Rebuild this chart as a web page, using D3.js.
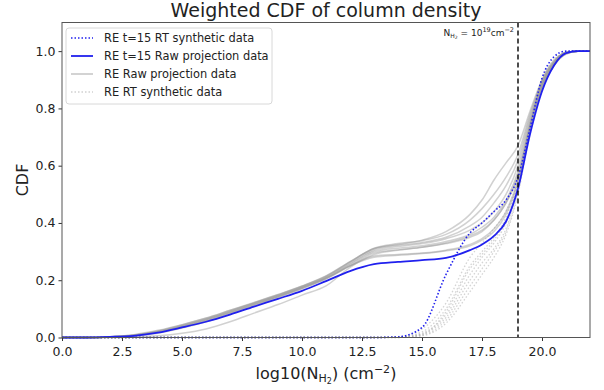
<!DOCTYPE html>
<html>
<head>
<meta charset="utf-8">
<script src="https://cdn.jsdelivr.net/npm/d3@7"></script>
<style>
  body { margin: 0; background: #fff; }
  svg { font-family: "DejaVu Sans", sans-serif; }
</style>
</head>
<body>
<div id="chart"></div>
<script>
// log10 column density grid shared by all curves
const xGrid = [0, 1, 2, 3, 4, 5, 6, 7, 8, 9, 10, 11, 12, 13, 14, 15, 16, 17, 17.5, 18, 18.5, 19, 19.5, 20, 20.5, 21, 21.5, 22];

// RE raw projection runs (grey solid)
const rawRuns = [
  [0, 0, 0.003, 0.010, 0.025, 0.045, 0.068, 0.095, 0.122, 0.150, 0.180, 0.215, 0.265, 0.310, 0.325, 0.340, 0.370, 0.430, 0.480, 0.550, 0.610, 0.670, 0.790, 0.900, 0.965, 0.995, 1, 1],
  [0, 0, 0.002, 0.008, 0.022, 0.042, 0.065, 0.092, 0.120, 0.148, 0.178, 0.212, 0.262, 0.310, 0.322, 0.332, 0.350, 0.390, 0.420, 0.470, 0.530, 0.620, 0.770, 0.890, 0.960, 0.995, 1, 1],
  [0, 0, 0.002, 0.008, 0.020, 0.040, 0.063, 0.090, 0.118, 0.146, 0.176, 0.210, 0.258, 0.305, 0.318, 0.328, 0.345, 0.375, 0.400, 0.440, 0.500, 0.600, 0.760, 0.885, 0.960, 0.995, 1, 1],
  [0, 0, 0.002, 0.007, 0.019, 0.038, 0.060, 0.087, 0.115, 0.143, 0.173, 0.207, 0.255, 0.300, 0.312, 0.320, 0.335, 0.360, 0.385, 0.420, 0.480, 0.580, 0.750, 0.880, 0.955, 0.993, 1, 1],
  [0, 0, 0.001, 0.005, 0.015, 0.033, 0.055, 0.082, 0.110, 0.140, 0.170, 0.205, 0.250, 0.295, 0.306, 0.315, 0.328, 0.350, 0.370, 0.410, 0.470, 0.570, 0.740, 0.875, 0.955, 0.993, 1, 1],
  [0, 0, 0.002, 0.007, 0.020, 0.040, 0.062, 0.088, 0.116, 0.144, 0.174, 0.208, 0.250, 0.285, 0.290, 0.295, 0.305, 0.325, 0.345, 0.380, 0.440, 0.550, 0.730, 0.870, 0.950, 0.990, 1, 1],
  [0, 0, 0, 0.002, 0.006, 0.015, 0.030, 0.055, 0.085, 0.115, 0.148, 0.180, 0.245, 0.290, 0.305, 0.315, 0.330, 0.355, 0.375, 0.410, 0.470, 0.560, 0.740, 0.880, 0.955, 0.993, 1, 1],
  [0, 0, 0.002, 0.006, 0.018, 0.036, 0.058, 0.085, 0.113, 0.142, 0.172, 0.205, 0.250, 0.280, 0.287, 0.293, 0.303, 0.320, 0.340, 0.370, 0.430, 0.540, 0.720, 0.870, 0.950, 0.990, 1, 1],
  [0, 0, 0.003, 0.009, 0.023, 0.044, 0.067, 0.094, 0.121, 0.149, 0.179, 0.214, 0.264, 0.312, 0.328, 0.338, 0.360, 0.410, 0.450, 0.500, 0.560, 0.640, 0.780, 0.895, 0.962, 0.995, 1, 1]
];

// RE RT synthetic runs (grey dotted)
const rtRuns = [
  [0, 0, 0, 0, 0, 0, 0, 0, 0, 0, 0, 0, 0, 0, 0.003, 0.030, 0.120, 0.280, 0.330, 0.380, 0.440, 0.550, 0.750, 0.900, 0.970, 0.995, 1, 1],
  [0, 0, 0, 0, 0, 0, 0, 0, 0, 0, 0, 0, 0, 0, 0.002, 0.020, 0.100, 0.250, 0.300, 0.350, 0.420, 0.540, 0.740, 0.900, 0.970, 0.995, 1, 1],
  [0, 0, 0, 0, 0, 0, 0, 0, 0, 0, 0, 0, 0, 0, 0.001, 0.015, 0.080, 0.220, 0.280, 0.330, 0.400, 0.530, 0.740, 0.890, 0.965, 0.995, 1, 1],
  [0, 0, 0, 0, 0, 0, 0, 0, 0, 0, 0, 0, 0, 0, 0.001, 0.012, 0.070, 0.200, 0.260, 0.310, 0.380, 0.520, 0.730, 0.890, 0.965, 0.995, 1, 1],
  [0, 0, 0, 0, 0, 0, 0, 0, 0, 0, 0, 0, 0, 0, 0, 0.008, 0.060, 0.180, 0.240, 0.300, 0.370, 0.510, 0.730, 0.880, 0.960, 0.993, 1, 1],
  [0, 0, 0, 0, 0, 0, 0, 0, 0, 0, 0, 0, 0, 0, 0, 0.006, 0.050, 0.160, 0.220, 0.280, 0.360, 0.500, 0.720, 0.880, 0.960, 0.993, 1, 1],
  [0, 0, 0, 0, 0, 0, 0, 0, 0, 0, 0, 0, 0, 0, 0.001, 0.010, 0.090, 0.240, 0.290, 0.340, 0.410, 0.530, 0.740, 0.895, 0.968, 0.995, 1, 1]
];

// t=15 runs (blue)
const rawT15 = [0, 0, 0.002, 0.006, 0.017, 0.035, 0.055, 0.080, 0.108, 0.135, 0.163, 0.197, 0.232, 0.256, 0.264, 0.270, 0.278, 0.305, 0.325, 0.355, 0.405, 0.520, 0.710, 0.860, 0.950, 0.993, 1, 1];
const rtT15 = [0, 0, 0, 0, 0, 0, 0, 0, 0, 0, 0, 0, 0, 0, 0.002, 0.035, 0.220, 0.365, 0.400, 0.440, 0.480, 0.560, 0.730, 0.905, 0.980, 1, 1, 1];

const xTicks = [0, 2.5, 5, 7.5, 10, 12.5, 15, 17.5, 20];
const yTicks = [0, 0.2, 0.4, 0.6, 0.8, 1.0];
const threshold = 19;

const legendItems = [
  { label: "RE t=15 RT synthetic data", color: "#2020ee", dash: "1.5,2", width: 1.6, opacity: 1 },
  { label: "RE t=15 Raw projection data", color: "#2020ee", dash: null, width: 1.8, opacity: 1 },
  { label: "RE Raw projection data", color: "#aaaaaa", dash: null, width: 1.3, opacity: 0.8 },
  { label: "RE RT synthetic data", color: "#cccccc", dash: "1.5,2", width: 1.3, opacity: 0.9 }
];

const W = 604, H = 390;
const margin = { left: 62, right: 14, top: 22.5, bottom: 52.5 };

const svg = d3.select("#chart").append("svg").attr("width", W).attr("height", H);

const x = d3.scaleLinear().domain([0, 22]).range([margin.left, W - margin.right]);
const y = d3.scaleLinear().domain([0, 1.1]).range([H - margin.bottom, margin.top]);

const line = d3.line()
  .x(function (d, i) { return x(xGrid[i]); })
  .y(function (d) { return y(d); })
  .curve(d3.curveMonotoneX);

const plot = svg.append("g");

plot.selectAll(".rt").data(rtRuns).enter().append("path")
  .attr("class", "rt")
  .attr("d", line)
  .attr("fill", "none")
  .attr("stroke", "#aaaaaa")
  .attr("stroke-opacity", 0.5)
  .attr("stroke-width", 1.3)
  .attr("stroke-dasharray", "1.5,2");

plot.selectAll(".raw").data(rawRuns).enter().append("path")
  .attr("class", "raw")
  .attr("d", line)
  .attr("fill", "none")
  .attr("stroke", "#999999")
  .attr("stroke-opacity", 0.45)
  .attr("stroke-width", 1.5);

plot.append("path").attr("d", line(rtT15))
  .attr("fill", "none").attr("stroke", "#2020ee")
  .attr("stroke-width", 1.6).attr("stroke-dasharray", "1.5,2");

plot.append("path").attr("d", line(rawT15))
  .attr("fill", "none").attr("stroke", "#2020ee")
  .attr("stroke-width", 1.8);

// threshold marker
svg.append("line")
  .attr("x1", x(threshold)).attr("x2", x(threshold))
  .attr("y1", y(1.1)).attr("y2", y(0))
  .attr("stroke", "#000").attr("stroke-width", 1.4)
  .attr("stroke-dasharray", "5,3");

const ann = svg.append("text")
  .attr("x", x(threshold) - 4).attr("y", 36)
  .attr("text-anchor", "end").attr("font-size", 9).attr("fill", "#222");
ann.append("tspan").text("N");
ann.append("tspan").attr("font-size", 6).attr("dy", 2).text("H");
ann.append("tspan").attr("font-size", 4.5).attr("dy", 1).text("2");
ann.append("tspan").attr("dy", -3).text(" = 10");
ann.append("tspan").attr("font-size", 6.5).attr("dy", -4).text("19");
ann.append("tspan").attr("dy", 4).text("cm");
ann.append("tspan").attr("font-size", 6.5).attr("dy", -4).text("−2");

// axes
const xAxis = svg.append("g")
  .attr("transform", "translate(0," + y(0) + ")")
  .call(d3.axisBottom(x).tickValues(xTicks).tickFormat(d3.format(".1f")).tickSizeOuter(0).tickSize(3.5));
const yAxis = svg.append("g")
  .attr("transform", "translate(" + x(0) + ",0)")
  .call(d3.axisLeft(y).tickValues(yTicks).tickFormat(d3.format(".1f")).tickSizeOuter(0).tickSize(3.5));

[xAxis, yAxis].forEach(function (a) {
  a.select(".domain").remove();
  a.selectAll("text").attr("font-size", 12.5).attr("fill", "#222").attr("font-family", "DejaVu Sans");
  a.selectAll("line").attr("stroke", "#333");
});
xAxis.selectAll("text").attr("dy", "0.95em");

svg.append("rect")
  .attr("x", x(0)).attr("y", y(1.1))
  .attr("width", x(22) - x(0)).attr("height", y(0) - y(1.1))
  .attr("fill", "none").attr("stroke", "#555").attr("stroke-width", 1);

// titles
svg.append("text")
  .attr("x", (x(0) + x(22)) / 2).attr("y", 17)
  .attr("text-anchor", "middle").attr("font-size", 19).attr("fill", "#222")
  .text("Weighted CDF of column density");

svg.append("text")
  .attr("transform", "translate(28," + (y(0) + y(1.1)) / 2 + ") rotate(-90)")
  .attr("text-anchor", "middle").attr("font-size", 16).attr("fill", "#222")
  .text("CDF");

const xl = svg.append("text")
  .attr("x", (x(0) + x(22)) / 2).attr("y", 379)
  .attr("text-anchor", "middle").attr("font-size", 16).attr("fill", "#222");
xl.append("tspan").text("log10(N");
xl.append("tspan").attr("font-size", 11).attr("dy", 3).text("H");
xl.append("tspan").attr("font-size", 8).attr("dy", 2).text("2");
xl.append("tspan").attr("dy", -5).text(") (cm");
xl.append("tspan").attr("font-size", 11).attr("dy", -6).text("−2");
xl.append("tspan").attr("dy", 6).text(")");

// legend
const lg = svg.append("g").attr("transform", "translate(66,28)");
lg.append("rect")
  .attr("width", 206).attr("height", 76).attr("rx", 3)
  .attr("fill", "#fff").attr("fill-opacity", 0.8)
  .attr("stroke", "#d8d8d8");
const row = lg.selectAll(".item").data(legendItems).enter().append("g")
  .attr("transform", function (d, i) { return "translate(0," + (10 + i * 18) + ")"; });
row.append("line")
  .attr("x1", 5).attr("x2", 27)
  .attr("stroke", function (d) { return d.color; })
  .attr("stroke-width", function (d) { return d.width; })
  .attr("stroke-opacity", function (d) { return d.opacity; })
  .attr("stroke-dasharray", function (d) { return d.dash; });
row.append("text")
  .attr("x", 38).attr("dy", "0.35em")
  .attr("font-size", 11.4).attr("fill", "#222")
  .text(function (d) { return d.label; });
</script>
</body>
</html>
